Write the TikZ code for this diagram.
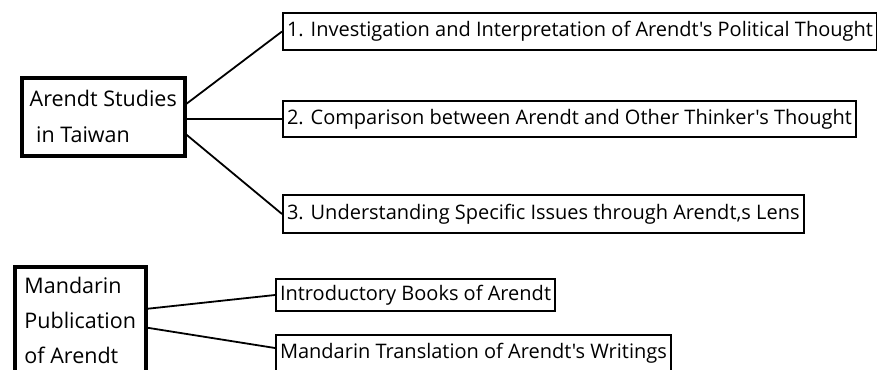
\documentclass[tikz,border=0pt]{standalone}
\usepackage{fontspec}
\setmainfont{Open Sans}[Ligatures=TeXOff]
\usetikzlibrary{positioning}
\tikzset{
  topicbox/.style={draw, line width=3.5pt, align=left, anchor=north west, inner xsep=5pt, font=\fontsize{21.5}{36}\selectfont},
  itembox/.style={draw, line width=2pt, anchor=north west, inner xsep=4pt, font=\fontsize{20}{22}\selectfont},
  linkln/.style={line width=1.8pt},
}

\begin{document}
\begin{tikzpicture}[x=1pt, y=-1pt]
    \useasboundingbox (0,0) rectangle (877,369);
    % Arendt studies in Taiwan
    \node[topicbox, minimum width=163pt, minimum height=78pt] (studies) at (20,76)
      {Arendt Studies\\\hspace{0.3em}in Taiwan};
    \node[itembox, minimum height=37pt] (investig) at (282,12)
      {1. Investigation and Interpretation of Arendt's Political Thought};
    \node[itembox, minimum height=36pt] (compare) at (282,100)
      {2. Comparison between Arendt and Other Thinker's Thought};
    \node[itembox, minimum height=38pt] (issues) at (282,194)
      {3. Understanding Specific Issues through Arendt‚s Lens};
    \draw[linkln] ([yshift=13pt]studies.east) -- (investig.west);
    \draw[linkln] (studies.east |- compare.west) -- (compare.west);
    \draw[linkln] ([yshift=-18pt]studies.east) -- (issues.west);
    % Mandarin publication
    \node[topicbox, minimum width=131pt, minimum height=107pt, font=\fontsize{21.5}{35}\selectfont] (mandarin) at (13,265)
      {Mandarin\\Publication\\of Arendt};
    \node[itembox, minimum height=32pt] (intro) at (275,278)
      {Introductory Books of Arendt};
    \node[itembox, minimum height=36pt] (transl) at (275,334)
      {Mandarin Translation of Arendt's Writings};
    \draw[linkln] ([yshift=11.5pt]mandarin.east) -- (intro.west);
    \draw[linkln] ([yshift=-7.5pt]mandarin.east) -- ([yshift=5pt]transl.west);
\end{tikzpicture}
\end{document}
